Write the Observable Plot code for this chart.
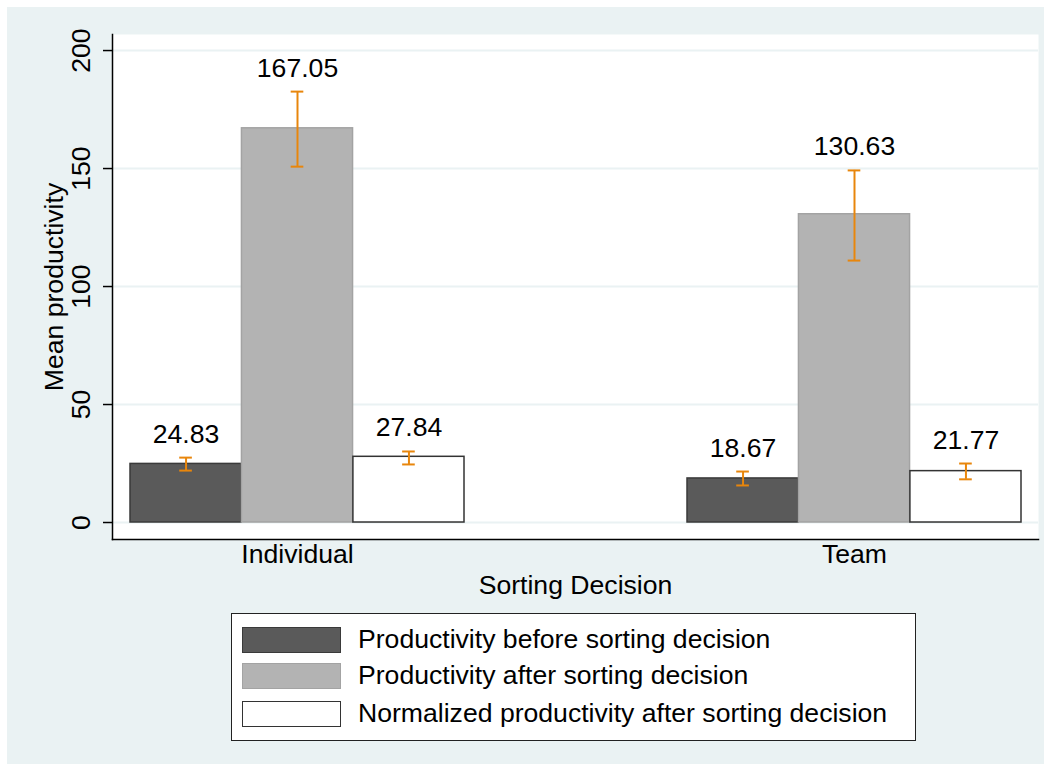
<!DOCTYPE html>
<html>
<head>
<meta charset="utf-8">
<script src="https://cdn.jsdelivr.net/npm/d3@7"></script>
<script src="https://cdn.jsdelivr.net/npm/@observablehq/plot@0.6"></script>
<style>
  html, body { margin: 0; padding: 0; background: #ffffff; }
  #bg { position: absolute; left: 7px; top: 7px; width: 1037px; height: 757px; background: #eaf2f3; }
  #chart { position: absolute; left: 0; top: 0; }
  #legend { position: absolute; left: 231px; top: 613px; width: 685px; height: 128px; box-sizing: border-box;
            border: 1.5px solid #222; background: #fff; font-family: "Liberation Sans", Arial, Helvetica, sans-serif; font-size: 26.6px; color: #000; }
  .row { position: absolute; left: 10px; height: 27px; display: flex; align-items: center; white-space: nowrap; }
  .sw { width: 99px; height: 26px; box-sizing: border-box; margin-right: 17px; }
</style>
</head>
<body>
<div id="bg"></div>
<div id="chart"></div>
<div id="legend"></div>
<script>
const groups = ["Individual", "Team"];
const series = [
  "Productivity before sorting decision",
  "Productivity after sorting decision",
  "Normalized productivity after sorting decision"
];
const meanIndividual = [24.83, 167.05, 27.84];
const meanTeam = [18.67, 130.63, 21.77];
const ciLowIndividual = [22.0, 150.8, 24.6];
const ciHighIndividual = [27.5, 182.6, 30.1];
const ciLowTeam = [15.7, 111.0, 18.3];
const ciHighTeam = [21.6, 149.2, 25.0];
const yTicks = [0, 50, 100, 150, 200];
const fills = ["#5a5a5a", "#b3b3b3", "#ffffff"];
const strokes = ["#3a3a3a", "#a3a3a3", "#333333"];
const errColor = "#e8860c";
const gridColor = "#eaf2f3";
const font = "'Liberation Sans', Arial, Helvetica, sans-serif";
const fs = 26.6;

const W = 1051, H = 610, ML = 112, MR = 13, MT = 34, MB = 71;
const xOpts = {type: "band", domain: groups, paddingInner: 0.4004, paddingOuter: 0.0305};
const bw = Plot.scale({x: {...xOpts, range: [ML, W - MR]}}).bandwidth;
const slot = bw / series.length;
const capW = 13;

const rows = [];
groups.forEach((g, gi) => {
  const means = gi === 0 ? meanIndividual : meanTeam;
  const lo = gi === 0 ? ciLowIndividual : ciLowTeam;
  const hi = gi === 0 ? ciHighIndividual : ciHighTeam;
  series.forEach((s, si) => rows.push({group: g, series: s, si, mean: means[si], lo: lo[si], hi: hi[si]}));
});

const seriesMarks = series.map((s, si) =>
  Plot.barY(rows.filter(r => r.si === si), {x: "group", y: "mean", fill: fills[si], stroke: strokes[si], strokeWidth: 1.5,
    insetLeft: si * slot, insetRight: (series.length - 1 - si) * slot})
);
const errMarks = series.flatMap((s, si) => {
  const d = rows.filter(r => r.si === si);
  const off = (si - (series.length - 1) / 2) * slot;
  const capInL = si * slot + (slot - capW) / 2;
  const capInR = (series.length - 1 - si) * slot + (slot - capW) / 2;
  return [
    Plot.ruleX(d, {x: "group", y1: "lo", y2: "hi", dx: off, stroke: errColor, strokeWidth: 2}),
    Plot.tickY(d, {x: "group", y: "lo", stroke: errColor, strokeWidth: 2, insetLeft: capInL, insetRight: capInR}),
    Plot.tickY(d, {x: "group", y: "hi", stroke: errColor, strokeWidth: 2, insetLeft: capInL, insetRight: capInR}),
    Plot.text(d, {x: "group", y: "hi", dx: off, dy: -15, text: r => r.mean.toFixed(2),
      lineAnchor: "bottom", fontSize: fs, fill: "#000"})
  ];
});

const chart = Plot.plot({
  width: W,
  height: H,
  marginLeft: ML,
  marginRight: MR,
  marginTop: MT,
  marginBottom: MB,
  style: {background: "transparent", fontFamily: font, fontSize: fs + "px", color: "#000"},
  x: {...xOpts, label: null},
  y: {domain: [-7.2, 206.8]},
  marks: [
    Plot.frame({fill: "white", stroke: null}),
    Plot.ruleY(yTicks, {stroke: gridColor, strokeWidth: 2}),
    ...seriesMarks,
    ...errMarks,
    Plot.axisY(yTicks, {tickSize: 9, tickFormat: () => "", label: null, stroke: "#000", strokeWidth: 1.5}),
    Plot.text(yTicks, {y: d => d, text: d => String(d), frameAnchor: "left", dx: -23,
      rotate: -90, textAnchor: "middle", lineAnchor: "bottom", fontSize: fs, fill: "#000"}),
    Plot.text(["Mean productivity"], {frameAnchor: "left", dx: -50, rotate: -90,
      textAnchor: "middle", lineAnchor: "bottom", fontSize: fs, fill: "#000"}),
    Plot.axisX({tickSize: 0, tickPadding: 5, label: null, fontSize: fs, fill: "#000"}),
    Plot.text(["Sorting Decision"], {frameAnchor: "bottom", dy: 54, lineAnchor: "bottom", fontSize: fs, fill: "#000"}),
    Plot.frame({anchor: "left", stroke: "#000", strokeWidth: 1.5}),
    Plot.frame({anchor: "bottom", stroke: "#000", strokeWidth: 1.5})
  ]
});
document.getElementById("chart").appendChild(chart);

const legend = document.getElementById("legend");
const rowTops = [12, 48, 86];
series.forEach((s, si) => {
  const r = document.createElement("div");
  r.className = "row";
  r.style.top = rowTops[si] + "px";
  const sw = document.createElement("div");
  sw.className = "sw";
  sw.style.background = fills[si];
  sw.style.border = "1.5px solid " + strokes[si];
  const t = document.createElement("span");
  t.textContent = s;
  r.appendChild(sw);
  r.appendChild(t);
  legend.appendChild(r);
});
</script>
</body>
</html>
